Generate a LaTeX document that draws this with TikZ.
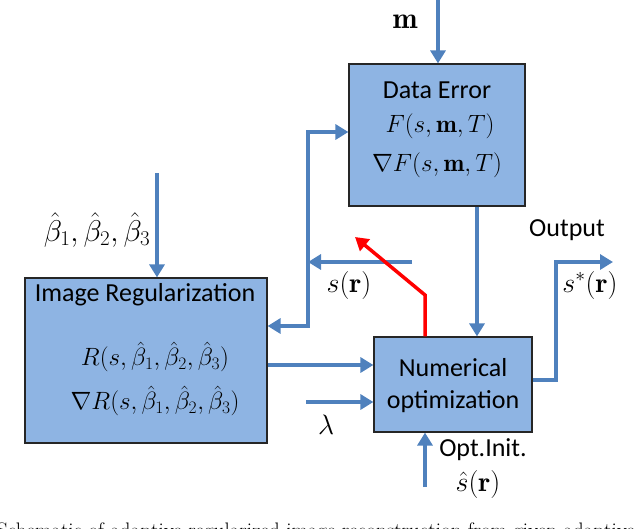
\RequirePackage{fix-cm}
\documentclass[tikz,border=0pt]{standalone}
\usepackage{fontspec}
\usetikzlibrary{arrows.meta}
\newfontfamily\boxfont{Carlito}
\definecolor{boxblue}{RGB}{142,180,227}
\definecolor{arrblue}{RGB}{79,129,189}
\tikzset{
  blk/.style={draw=black!85, line width=1.2pt, fill=boxblue, inner sep=0pt},
  arr/.style={draw=arrblue, line width=4pt, -{Triangle[length=13pt,width=15pt]}},
  darr/.style={draw=arrblue, line width=4pt, {Triangle[length=13pt,width=15pt]}-{Triangle[length=13pt,width=15pt]}},
  redarr/.style={draw=red, line width=3.5pt, -{Triangle[length=13pt,width=15pt]}},
  btxt/.style={font=\boxfont\fontsize{26}{30}\selectfont, inner sep=0pt},
  mtxt/.style={font=\fontsize{25}{30}\selectfont, inner sep=0pt},
  otxt/.style={font=\fontsize{28}{33}\selectfont, inner sep=0pt},
  ltxt/.style={font=\boxfont\fontsize{26}{30}\selectfont, inner sep=0pt}
}
\begin{document}
\begin{tikzpicture}[x=1pt,y=-1pt]
\useasboundingbox (0,0) rectangle (640,528);
% boxes
\node[blk, minimum width=176pt, minimum height=142pt] (de) at (437,135) {};
\node[blk, minimum width=242pt, minimum height=165pt] (ir) at (146,360.5) {};
\node[blk, minimum width=158pt, minimum height=95pt] (no) at (453,384.5) {};
% box texts
\node[btxt] (deT) at (437,90) {Data Error};
\node[mtxt] (deF) at (440,126) {$F(s,\mathbf{m},T)$};
\node[mtxt] (deG) at (437,165) {$\nabla F(s,\mathbf{m},T)$};
\node[btxt] (irT) at (145,295) {Image Regularization};
\node[mtxt] (irR) at (155,357) {$R(s,\hat\beta_1,\hat\beta_2,\hat\beta_3)$};
\node[mtxt] (irG) at (155,401) {$\nabla R(s,\hat\beta_1,\hat\beta_2,\hat\beta_3)$};
\node[btxt] (noT1) at (453,368) {Numerical};
\node[btxt] (noT2) at (453,402) {optimization};
% free ends
\coordinate (mtop) at (438,0);
\coordinate (btop) at (157,173);
\coordinate (dx) at (477,0);
\coordinate (fbx) at (308,0);
\coordinate (srs) at (412,262);
\coordinate (srj) at (308,262);
\coordinate (rx) at (425,0);
\coordinate (rbend) at (425,295);
\coordinate (rend) at (355,237);
\coordinate (lam) at (306,402);
\coordinate (oi) at (425,487);
\coordinate (outc) at (556,262);
\coordinate (outend) at (613,262);
% labels
\node[mtxt, font=\fontsize{30}{34}\selectfont] (mlab) at (405,22) {$\mathbf{m}$};
\node[otxt, font=\fontsize{30}{35}\selectfont] (blab) at (97,230) {$\hat\beta_1,\hat\beta_2,\hat\beta_3$};
\node[otxt] (srlab) at (349,285) {$s(\mathbf{r})$};
\node[otxt] (laml) at (326,425) {$\lambda$};
\node[ltxt] (oilab) at (483,450) {Opt.Init.};
\node[otxt] (shat) at (478,484) {$\hat s(\mathbf{r})$};
\node[ltxt] (outl) at (567,230) {Output};
\node[otxt] (sstar) at (590,285) {$s^{*}(\mathbf{r})$};
% connectors
\draw[arr] (mtop) -- (mtop |- de.north);
\draw[arr] (btop) -- (btop |- ir.north);
\draw[arr] (dx |- de.south) -- (dx |- no.north);
\draw[darr] (ir.east |- 0,326) -| (fbx |- 0,132) -- (de.west |- 0,132);
\draw[arr] (srs) -- (srj);
\draw[redarr] (rx |- no.north) -- (rbend) -- (rend);
\draw[arr] (ir.east |- 0,365) -- (no.west |- 0,365);
\draw[arr] (lam) -- (no.west |- lam);
\draw[arr] (oi) -- (oi |- no.south);
\draw[arr] (no.east |- 0,380) -| (outc) -- (outend);
% caption (cut off at the bottom edge)
\begin{scope}
\clip (0,0) rectangle (640,528);
\node[anchor=base west, inner sep=0pt, font=\fontsize{21}{24}\selectfont] (cap) at (-3,537) {Schematic of adaptive regularized image reconstruction from given adaptive};
\end{scope}
\end{tikzpicture}
\end{document}
